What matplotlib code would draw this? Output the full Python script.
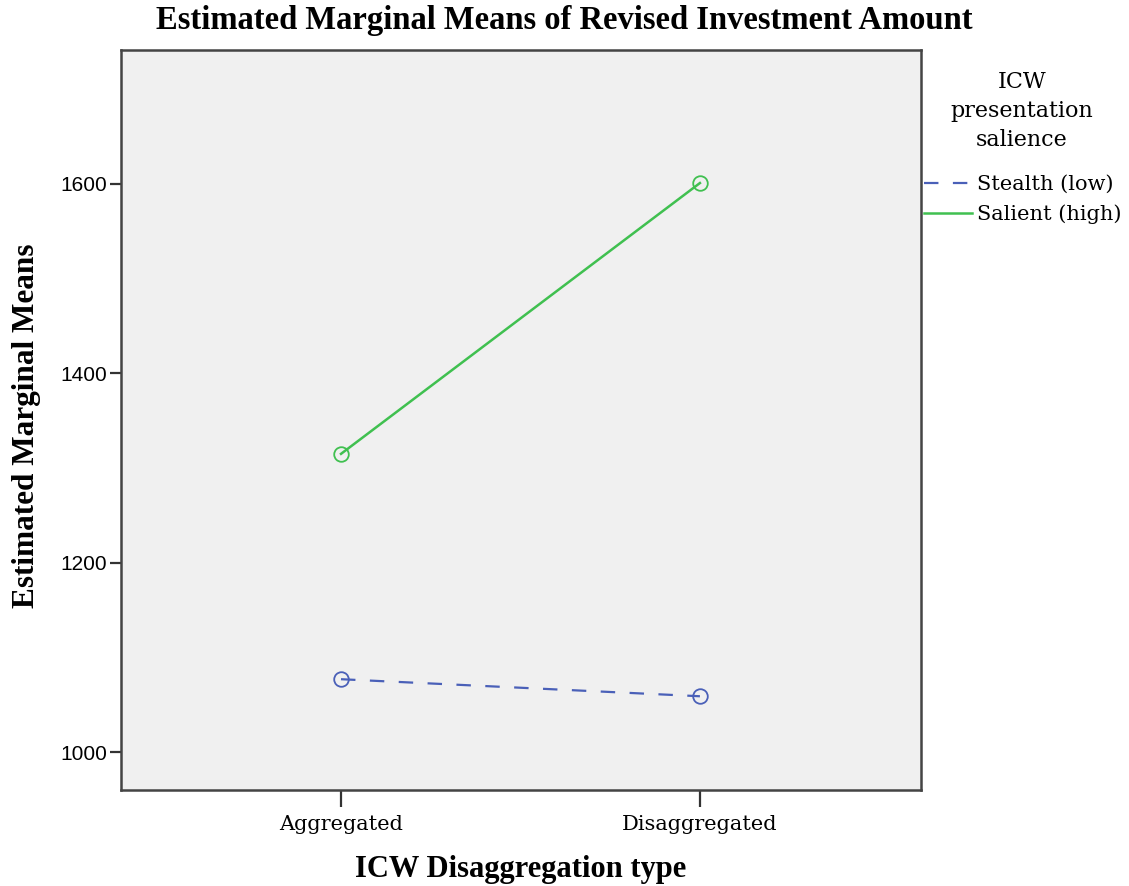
import matplotlib
matplotlib.use("Agg")
import matplotlib.pyplot as plt
from matplotlib.lines import Line2D

categories = ["Aggregated", "Disaggregated"]
series_names = ["Stealth (low)", "Salient (high)"]
stealth_low = [1077, 1059]
salient_high = [1315, 1601]
y_ticks = [1000, 1200, 1400, 1600]
legend_title = ["ICW", "presentation", "salience"]

serif = "DejaVu Serif"
bserif = "Liberation Serif"
sans = "Liberation Sans"

W, H = 1129, 886
fig = plt.figure(figsize=(W / 100, H / 100), dpi=100)
ax = fig.add_axes([121 / W, 1 - 790 / H, 800 / W, 740 / H])
ax.set_facecolor("#f0f0f0")

x = list(range(len(categories)))
blue = "#4a60b8"
green = "#40c050"
ax.plot(x, stealth_low, color=blue, lw=1.6, ls=(0, (6.5, 6.5)), marker="o", ms=10.5,
        mfc="none", mec=blue, mew=1.3)
ax.plot(x, salient_high, color=green, lw=1.8, ls="-", marker="o", ms=10.5,
        mfc="none", mec=green, mew=1.3)

ax.set_xlim(-0.613, 1.616)
ax.set_ylim(960, 1741.5)
ax.set_xticks(x)
ax.set_xticklabels(categories, fontfamily=serif, fontsize=15)
ax.set_yticks(y_ticks)
ax.set_yticklabels([str(v) for v in y_ticks], fontfamily=sans, fontsize=15)
ax.tick_params(axis="y", length=8, width=1.6, color="#333333", pad=2)
ax.tick_params(axis="x", length=12, width=1.6, color="#333333", pad=6)
for s in ax.spines.values():
    s.set_linewidth(1.8)
    s.set_color("#444444")

fig.text(27 / W, 1 - 426 / H, "Estimated Marginal Means", rotation=90,
         ha="center", va="center", fontfamily=bserif, fontsize=22.5, fontweight="bold")
ax.set_xlabel("ICW Disaggregation type", fontfamily=bserif, fontsize=22,
              fontweight="bold", labelpad=15)
fig.text(0.5, 1 - 21 / H, "Estimated Marginal Means of Revised Investment Amount",
         ha="center", va="center", fontfamily=bserif, fontsize=23.5, fontweight="bold")

# legend title (three centred lines)
for i, line in enumerate(legend_title):
    fig.text(1022 / W, 1 - (82 + 29 * i) / H, line, ha="center", va="center",
             fontfamily=serif, fontsize=16)

handles = [Line2D([], [], color=blue, lw=1.6, ls=(0, (6.5, 6.5))),
           Line2D([], [], color=green, lw=1.8)]
fig.legend(handles, series_names, loc="upper left",
           bbox_to_anchor=(924 / W, 1 - 175 / H),
           frameon=False, prop={"family": serif, "size": 15},
           handlelength=2.3, handletextpad=0.25, borderaxespad=0,
           borderpad=0, labelspacing=0.5)

fig.savefig("out.png", dpi=100)
